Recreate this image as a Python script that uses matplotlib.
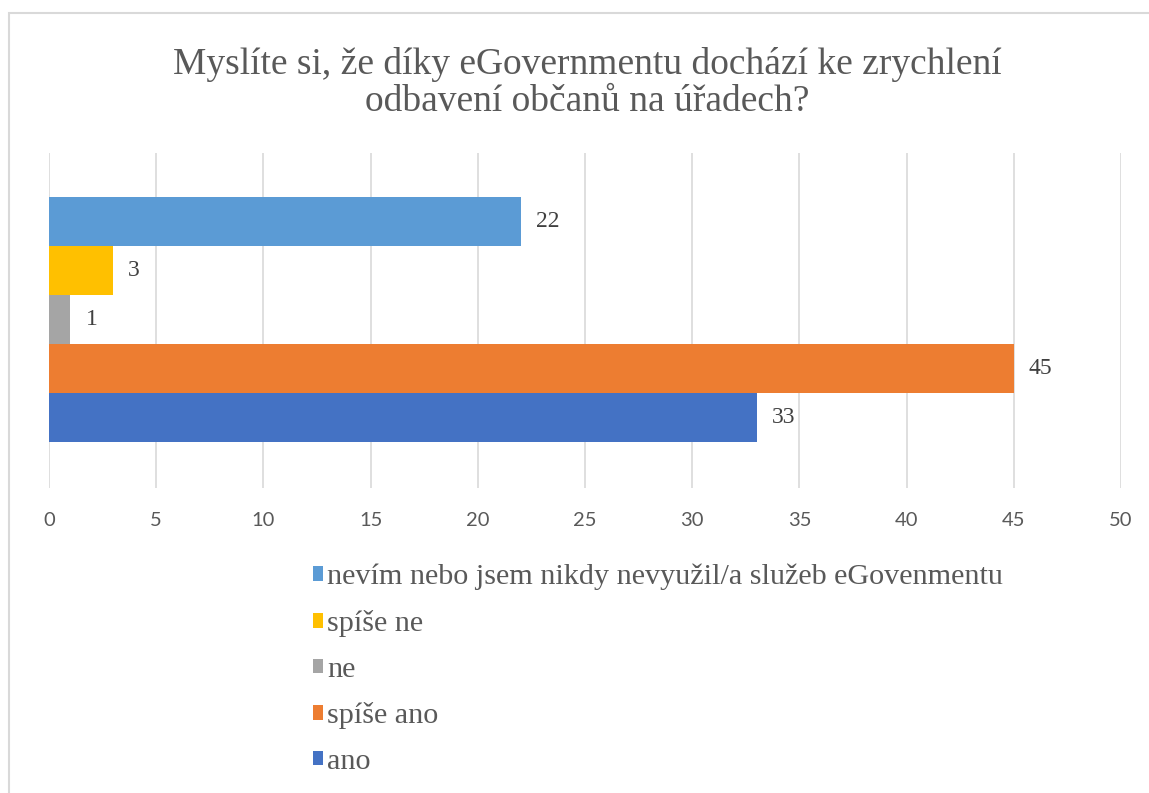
import matplotlib.pyplot as plt
from matplotlib.patches import Rectangle, Patch
from matplotlib import font_manager as fm

# data, listed top to bottom as drawn
labels = ["nevím nebo jsem nikdy nevyužil/a služeb eGovenmentu",
          "spíše ne", "ne", "spíše ano", "ano"]
values = [22, 3, 1, 45, 33]
colors = ["#5b9bd5", "#ffc000", "#a5a5a5", "#ed7d31", "#4472c4"]
xticks = [0, 5, 10, 15, 20, 25, 30, 35, 40, 45, 50]

title = "Myslíte si, že díky eGovernmentu dochází ke zrychlení\nodbavení občanů na úřadech?"

txt = "#595959"

# pick the regular Liberation Serif file directly
serif_files = [f for f in fm.fontManager.ttflist
               if f.name == "Liberation Serif" and f.style == "normal" and f.weight in (400, "normal")]
serif_path = serif_files[0].fname if serif_files else fm.findfont(fm.FontProperties(family="serif"))


def sp(size):
    return fm.FontProperties(fname=serif_path, size=size)


fig = plt.figure(figsize=(11.49, 7.93), dpi=100)

# outer chart frame (cut off on the right/bottom in the original)
fig.patches.append(Rectangle((9 / 1149, -0.1), 1.2, 1 - 13 / 793 + 0.1,
                             transform=fig.transFigure, fill=False,
                             edgecolor="#d9d9d9", linewidth=1.5))

ax = fig.add_axes([49 / 1149, 1 - 488 / 793, 1072 / 1149, 335 / 793])

pos = list(range(len(values)))
bars = ax.barh(pos, values, height=1.0, color=colors, zorder=3)
for b, v in zip(bars, values):
    ax.text(v + 0.7, b.get_y() + b.get_height() / 2, str(v), va="center",
            ha="left", fontproperties=sp(17), color="#404040")

ax.set_xlim(0, 50)
ax.set_ylim(5.44, -1.4)
ax.set_xticks(xticks)
ax.set_xticklabels([str(x) for x in xticks], fontfamily="Lato")
ax.set_yticks([])
ax.grid(axis="x", color="#d9d9d9", linewidth=1.2, zorder=0)
for s in ax.spines.values():
    s.set_visible(False)
ax.tick_params(axis="x", length=0, pad=17, labelsize=14.5, labelcolor=txt)

fig.text(0.511, 1 - 83 / 793, title, ha="center", va="center",
         fontproperties=sp(27), color=txt, linespacing=1.12)

handles = [Patch(facecolor=c) for c in colors]
leg = fig.legend(handles, labels, loc="upper left",
                 bbox_to_anchor=(313 / 1149, 1 - 564 / 793),
                 frameon=False, prop=sp(21.7), borderpad=0, borderaxespad=0,
                 handlelength=0.34, handleheight=0.37, handletextpad=0.13,
                 labelspacing=0.65, labelcolor=txt)

fig.savefig("out.png", dpi=100)
